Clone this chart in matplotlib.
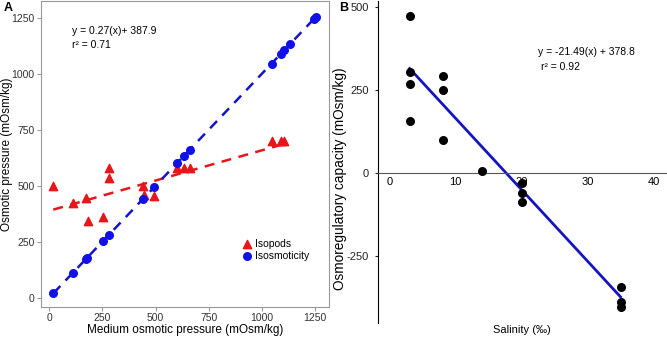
import matplotlib
matplotlib.use("Agg")
import matplotlib.pyplot as plt
import numpy as np

plt.rcParams['font.family'] = ['Liberation Sans', 'DejaVu Sans']
plt.rcParams['axes.unicode_minus'] = False

# Panel A: medium vs haemolymph osmotic pressure
iso_x = [20, 112, 172, 179, 254, 279, 442, 492, 599, 634, 661, 1045, 1089, 1104, 1131, 1245, 1252]
iso_y = [20, 112, 172, 179, 254, 279, 442, 492, 599, 634, 661, 1045, 1089, 1104, 1131, 1245, 1252]
pod_x = [19, 113, 172, 180, 254, 279, 279, 442, 445, 492, 599, 634, 661, 1045, 1089, 1104]
pod_y = [500, 422, 444, 342, 360, 578, 535, 497, 458, 452, 578, 578, 578, 700, 698, 700]
pod_slope, pod_icpt = 0.27, 387.9
a_ticks = [0, 250, 500, 750, 1000, 1250]

# Panel B: osmoregulatory capacity vs salinity
sal = [3, 3, 3, 3, 8, 8, 8, 14, 20, 20, 20, 35, 35, 35]
cap = [472, 303, 267, 157, 292, 250, 100, 7, -29, -62, -89, -344, -389, -404]
b_slope, b_icpt = -21.49, 378.8
b_xticks = [0, 10, 20, 30, 40]
b_yticks = [-250, 0, 250, 500]

fig = plt.figure(figsize=(6.67, 3.37), dpi=100)
grey = '#999999'

# ---- A ----
ax = fig.add_axes([0.061, 0.09, 0.432, 0.907])
xs = np.array([min(pod_x), max(pod_x)])
ax.plot(xs, pod_slope * xs + pod_icpt, '--', color='#E8151B', lw=1.8, dashes=(4, 3))
xi = np.array([min(iso_x), max(iso_x)])
ax.plot(xi, xi, '--', color='#1414C8', lw=1.8, dashes=(4, 3))
ax.scatter(pod_x, pod_y, marker='^', s=36, color='#E8151B', label='Isopods', zorder=3)
ax.scatter(iso_x, iso_y, marker='o', s=30, color='#1010E8', label='Isosmoticity', zorder=3)
ax.set_xlim(-40, 1314)
ax.set_ylim(-40, 1324)
ax.set_xticks(a_ticks)
ax.set_yticks(a_ticks)
for s in ax.spines.values():
    s.set_color(grey)
ax.tick_params(labelsize=7.5, colors='#333333', length=3, width=0.8, pad=1.5)
ax.tick_params(axis='both', color=grey)
ax.set_xlabel('Medium osmotic pressure (mOsm/kg)', fontsize=8.5, va='center')
ax.xaxis.set_label_coords(0.5, -0.076)
ax.set_ylabel('Osmotic pressure (mOsm/kg)', fontsize=8.5, va='center')
ax.yaxis.set_label_coords(-0.117, 0.5)
ax.text(0.109, 0.902, 'y = 0.27(x)+ 387.9', transform=ax.transAxes, fontsize=7.5, va='center')
ax.text(0.109, 0.856, 'r² = 0.71', transform=ax.transAxes, fontsize=7.5, va='center')
ax.legend(loc='upper left', bbox_to_anchor=(0.675, 0.238), frameon=False, fontsize=7.5,
          handletextpad=0.2, borderpad=0, labelspacing=0.15, handlelength=1.2)
fig.text(0.006, 0.975, 'A', fontsize=9, fontweight='bold', va='center')

# ---- B ----
bx = fig.add_axes([0.566, 0.0415, 0.4325, 0.955])
bx.scatter(sal, cap, s=30, color='black', zorder=3)
sx = np.array([min(sal), max(sal)])
bx.plot(sx, b_slope * sx + b_icpt, color='#1515C0', lw=2)
bx.set_xlim(-1.87, 41.9)
bx.set_ylim(-452, 517)
bx.set_xticks(b_xticks)
bx.set_yticks(b_yticks)
bx.spines['top'].set_visible(False)
bx.spines['right'].set_visible(False)
bx.spines['bottom'].set_position(('data', 0))
bx.spines['bottom'].set_color('#555555')
bx.tick_params(axis='x', length=0, labelsize=8, pad=3)
bx.tick_params(axis='y', length=2.5, labelsize=8, colors='#222222')
bx.set_xlabel('Salinity (‰)', fontsize=8, va='center')
bx.xaxis.set_label_coords(0.5, -0.022)
bx.set_ylabel('Osmoregulatory capacity (mOsm/kg)', fontsize=9.8, va='center')
bx.yaxis.set_label_coords(-0.131, 0.447)
bx.text(0.557, 0.842, 'y = -21.49(x) + 378.8', transform=bx.transAxes, fontsize=7.5, va='center')
bx.text(0.565, 0.795, 'r² = 0.92', transform=bx.transAxes, fontsize=7.5, va='center')
fig.text(0.509, 0.975, 'B', fontsize=9, fontweight='bold', va='center')

fig.savefig('out.png', dpi=100)
